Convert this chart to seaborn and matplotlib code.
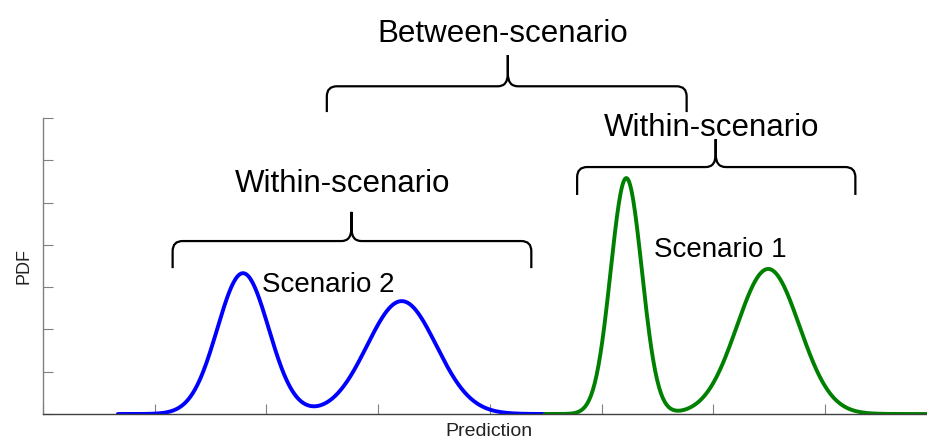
import numpy as np
import pandas as pd
import seaborn as sns
import matplotlib
matplotlib.use("Agg")
import matplotlib.pyplot as plt
from matplotlib.path import Path
from matplotlib.patches import PathPatch

# Componentes das misturas: centro, desvio, altura do pico
scenarios = ["Scenario 2", "Scenario 1"]
blue_means = [1.79, 3.21]
blue_sds = [0.23, 0.31]
blue_peaks = [3.33, 2.67]
green_means = [5.22, 6.49]
green_sds = [0.14, 0.28]
green_peaks = [5.58, 3.43]
blue_range = [0.67, 4.49]
green_range = [4.49, 7.92]

x_ticks = [0, 1, 2, 3, 4, 5, 6, 7]
y_ticks = [0, 1, 2, 3, 4, 5, 6, 7]


def mixture(x, means, sds, peaks):
    y = np.zeros_like(x)
    for m, s, p in zip(means, sds, peaks):
        y += p * np.exp(-0.5 * ((x - m) / s) ** 2)
    return y


xb = np.linspace(blue_range[0], blue_range[1], 400)
xg = np.linspace(green_range[0], green_range[1], 400)
df = pd.concat([
    pd.DataFrame({"x": xb, "pdf": mixture(xb, blue_means, blue_sds, blue_peaks), "scenario": scenarios[0]}),
    pd.DataFrame({"x": xg, "pdf": mixture(xg, green_means, green_sds, green_peaks), "scenario": scenarios[1]}),
])

sns.set_theme(style="white")
plt.rcParams["font.family"] = ["Liberation Sans", "DejaVu Sans"]

fig = plt.figure(figsize=(9.28, 4.41), dpi=100)
ax = fig.add_axes([43 / 928, 27 / 441, 885 / 928, 296 / 441])

sns.lineplot(data=df, x="x", y="pdf", hue="scenario",
             palette={"Scenario 2": "#0000ff", "Scenario 1": "#008000"},
             linewidth=2.8, legend=False, ax=ax)

ax.set_xlim(0, 7.92)
ax.set_ylim(0, 7)
ax.set_xticks(x_ticks)
ax.set_yticks(y_ticks)
ax.tick_params(direction="in", length=7, width=0.8, colors="#808080",
               labelleft=False, labelbottom=False, bottom=True, left=True)
for s in ["top", "right"]:
    ax.spines[s].set_visible(False)
ax.spines["left"].set_color("#808080")
ax.spines["bottom"].set_color("#404040")
ax.spines["left"].set_linewidth(1.0)
ax.spines["bottom"].set_linewidth(1.0)

ax.set_xlabel("Prediction", fontsize=14, color="#222222")
ax.set_ylabel("PDF", fontsize=13, color="#222222")
ax.xaxis.set_label_coords(0.504, -0.03)
ax.yaxis.set_label_coords(-0.012, 0.5)


# chaves
def brace(ax, x0, x1, xm, y, y_end, y_tip):
    rh, rv = 0.09, 0.24
    ch, cv = 0.09, 0.3
    verts = [(x0, y_end), (x0, y - rv), (x0, y), (x0 + rh, y),
             (xm - ch, y), (xm, y), (xm, y + cv), (xm, y_tip),
             (xm, y + cv), (xm, y), (xm + ch, y),
             (x1 - rh, y), (x1, y), (x1, y - rv), (x1, y_end)]
    codes = [Path.MOVETO, Path.LINETO, Path.CURVE3, Path.CURVE3,
             Path.LINETO, Path.CURVE3, Path.CURVE3, Path.LINETO,
             Path.LINETO, Path.CURVE3, Path.CURVE3,
             Path.LINETO, Path.CURVE3, Path.CURVE3, Path.LINETO]
    patch = PathPatch(Path(verts, codes), facecolor="none", edgecolor="black",
                      linewidth=1.6, clip_on=False)
    ax.add_patch(patch)


brace(ax, 2.54, 5.76, 4.16, 7.75, 7.14, 8.49)
brace(ax, 4.78, 7.27, 6.02, 5.84, 5.18, 6.50)
brace(ax, 1.16, 4.37, 2.76, 4.09, 3.45, 4.78)

txt = dict(fontsize=22.5, color="black", va="baseline", clip_on=False)
ax.text(4.11, 8.79, "Between-scenario", ha="center", **txt)
ax.text(5.98, 6.57, "Within-scenario", ha="center", **txt)
ax.text(2.68, 5.25, "Within-scenario", ha="center", **txt)
ax.text(1.96, 2.88, "Scenario 2", fontsize=20, color="black", va="baseline", ha="left")
ax.text(5.47, 3.71, "Scenario 1", fontsize=20, color="black", va="baseline", ha="left")

fig.savefig("out.png", dpi=100)
